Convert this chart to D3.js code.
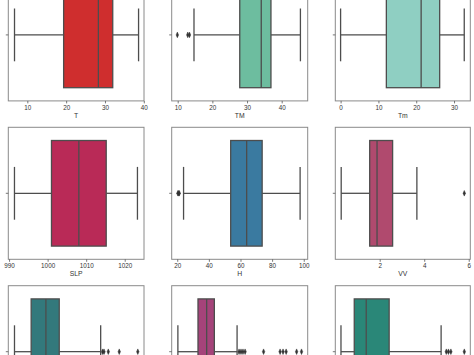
<!DOCTYPE html>
<html><head><meta charset="utf-8">
<script src="https://cdn.jsdelivr.net/npm/d3@7"></script>
<style>html,body{margin:0;padding:0;background:#fff;overflow:hidden}</style>
</head><body>
<svg id="c" width="474" height="355"></svg>
<script>
// Variables (one boxplot per panel)
const names      = ["T", "TM", "Tm", "SLP", "H", "VV", "V", "VM", "PM 2.5"];
const whiskerLow = [6.7, 14.7, 0.0, 991.4, 24.0, 0.27, 0.0, 0.0, 0.0];
const q1         = [19.35, 27.9, 12.1, 1001.0, 53.8, 1.55, 3.5, 12.3, 43.5];
const medians    = [28.3, 34.1, 21.3, 1008.1, 63.9, 1.88, 6.6, 17.6, 82.7];
const q3         = [32.0, 36.9, 26.2, 1015.2, 73.7, 2.58, 9.4, 22.3, 157.8];
const whiskerHigh= [38.65, 45.4, 32.7, 1023.3, 97.7, 3.67, 18.1, 36.2, 328];
const outliers   = [[], [9.9, 12.9, 13.4], [], [], [20.4, 20.9, 21.3], [5.8],
                    [18.5, 18.8, 19.7, 22.0, 25.9],
                    [37.4, 38.6, 39.8, 41.1, 52.4, 62.5, 64.3, 66.2, 72.6, 75.6],
                    [345, 352, 360, 404]];
const domains    = [[5.1, 40.05], [8.27, 47.5], [-1.4, 34.3], [989.8, 1025], [16.5, 102.5],
                    [0.005, 6.07], [-1.3, 27.2], [-3.78, 79.38], [-18.6, 423.6]];
const tickVals   = [[10,20,30,40], [10,20,30,40], [0,10,20,30], [990,1000,1010,1020],
                    [20,40,60,80,100], [2,4,6], [0,5,10,15,20,25], [0,20,40,60], [0,100,200,300,400]];
const colors     = ["#cf2e2e", "#6dbd9f", "#8fcfc2", "#b92a57", "#3a7aa0", "#b04a6e",
                    "#33797c", "#a5437a", "#2a8778"];

const svg = d3.select("#c");
const W = 474, HT = 355;
const colX = [[8.3, 144], [171.7, 307.7], [335.3, 470.3]];
const rowTop = [-31.1, 127.3, 285.7];
const H = 132;
const lineCol = "#4d4d4d";

names.forEach((name, i) => {
  const c = i % 3, r = Math.floor(i / 3);
  const [x0, x1] = colX[c];
  const top = rowTop[r];
  const g = svg.append("g");
  const x = d3.scaleLinear().domain(domains[i]).range([x0, x1]);
  const y = d3.scaleBand().domain([0]).range([top, top + H]);
  const cy = y(0) + y.bandwidth() / 2;
  const bw = y.bandwidth() * 0.8;
  const cw = y.bandwidth() * 0.4;

  // frame
  g.append("rect").attr("x", x0).attr("y", top).attr("width", x1 - x0).attr("height", H)
    .attr("fill", "none").attr("stroke", "#8a8a8a").attr("stroke-width", 1);

  // whiskers
  g.append("line").attr("x1", x(whiskerLow[i])).attr("x2", x(q1[i])).attr("y1", cy).attr("y2", cy)
    .attr("stroke", lineCol).attr("stroke-width", 1.3);
  g.append("line").attr("x1", x(q3[i])).attr("x2", x(whiskerHigh[i])).attr("y1", cy).attr("y2", cy)
    .attr("stroke", lineCol).attr("stroke-width", 1.3);
  [whiskerLow[i], whiskerHigh[i]].forEach(v => {
    g.append("line").attr("x1", x(v)).attr("x2", x(v)).attr("y1", cy - cw / 2).attr("y2", cy + cw / 2)
      .attr("stroke", lineCol).attr("stroke-width", 1.3);
  });
  // box
  g.append("rect").attr("x", x(q1[i])).attr("y", cy - bw / 2)
    .attr("width", x(q3[i]) - x(q1[i])).attr("height", bw)
    .attr("fill", colors[i]).attr("stroke", lineCol).attr("stroke-width", 1.3);
  g.append("line").attr("x1", x(medians[i])).attr("x2", x(medians[i]))
    .attr("y1", cy - bw / 2).attr("y2", cy + bw / 2)
    .attr("stroke", lineCol).attr("stroke-width", 1.3);
  // outliers
  const sym = d3.symbol().type(d3.symbolDiamond).size(9);
  outliers[i].forEach(v => {
    g.append("path").attr("d", sym())
      .attr("transform", `translate(${x(v)},${cy}) scale(0.75,1)`)
      .attr("fill", "#333").attr("stroke", "#333").attr("stroke-width", 0.6);
  });

  // y tick (unlabeled)
  g.append("line").attr("x1", x0 - 2.5).attr("x2", x0).attr("y1", cy).attr("y2", cy)
    .attr("stroke", "#555").attr("stroke-width", 0.8);

  // x axis (only drawn where it falls inside the picture)
  if (top + H < HT) {
    const ax = g.append("g").attr("transform", `translate(0,${top + H})`)
      .call(d3.axisBottom(x).tickValues(tickVals[i]).tickSize(2.5).tickPadding(2).tickFormat(d3.format("d")));
    ax.select(".domain").remove();
    ax.selectAll("line").attr("stroke", "#555").attr("stroke-width", 0.8);
    ax.selectAll("text").attr("font-family", "Liberation Sans, Arial, sans-serif")
      .attr("font-size", 6.3).attr("fill", "#333");
    g.append("text").attr("x", (x0 + x1) / 2).attr("y", top + H + 17)
      .attr("text-anchor", "middle").attr("font-family", "Liberation Sans, Arial, sans-serif")
      .attr("font-size", 6.8).attr("fill", "#333").text(name);
  }
});
</script>
</body></html>
